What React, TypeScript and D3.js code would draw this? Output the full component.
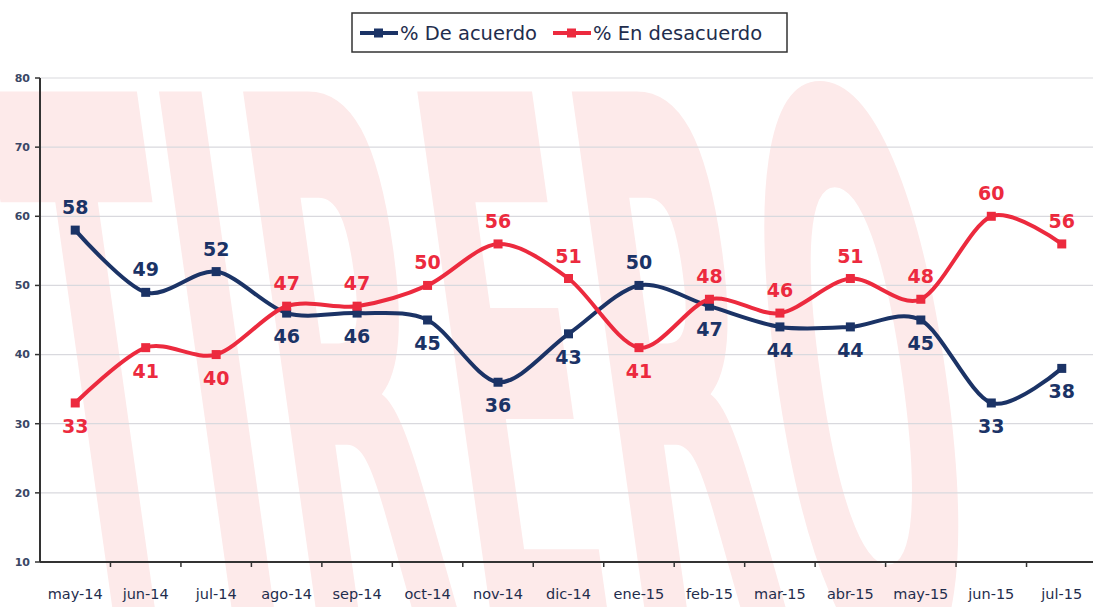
import { useMemo } from 'react';
import * as d3 from 'd3';

const W = 1093;
const H = 607;
const M = { top: 78, right: -4, bottom: 45, left: 40 };

const months = ['may-14', 'jun-14', 'jul-14', 'ago-14', 'sep-14', 'oct-14', 'nov-14', 'dic-14', 'ene-15', 'feb-15', 'mar-15', 'abr-15', 'may-15', 'jun-15', 'jul-15'];
const acuerdo = [58, 49, 52, 46, 46, 45, 36, 43, 50, 47, 44, 44, 45, 33, 38];
const desacuerdo = [33, 41, 40, 47, 47, 50, 56, 51, 41, 48, 46, 51, 48, 60, 56];
// label placement: 1 = above the point, -1 = below
const acuerdoPos = [1, 1, 1, -1, -1, -1, -1, -1, 1, -1, -1, -1, -1, -1, -1];
const desacuerdoPos = [-1, -1, -1, 1, 1, 1, 1, 1, -1, 1, 1, 1, 1, 1, 1];
const yTicks = [10, 20, 30, 40, 50, 60, 70, 80];

const BLUE = '#1b3366';
const RED = '#ec2a3e';
const TEXT = '#1f2d4d';
const FONT = '"DejaVu Sans", Verdana, sans-serif';

export default function App() {
  const x = useMemo(
    () => d3.scaleBand<string>().domain(months).range([M.left, W - M.right]).padding(0),
    [],
  );
  const y = useMemo(
    () => d3.scaleLinear().domain([10, 80]).range([H - M.bottom, M.top]),
    [],
  );
  const cx = (m: string) => (x(m) ?? 0) + x.bandwidth() / 2;

  const line = d3
    .line<number>()
    .x((_, i) => cx(months[i]))
    .y((d) => y(d))
    .curve(d3.curveCardinal.tension(0.1));

  const series = [
    { name: '% De acuerdo', values: acuerdo, pos: acuerdoPos, color: BLUE },
    { name: '% En desacuerdo', values: desacuerdo, pos: desacuerdoPos, color: RED },
  ];

  const x0 = M.left;
  const yBase = y(10);

  return (
    <svg width={W} height={H} style={{ display: 'block', position: 'absolute', left: 0, top: 0, background: '#fff' }}>
      {/* faint watermark, squeezed with a transform */}
      <g transform="skewX(8) scale(0.29, 1)">
        <text x={-100} y={660} fontFamily={FONT} fontWeight="bold" fontSize={780} fill="#fdeaea">
          TIRERO
        </text>
      </g>

      {/* gridlines */}
      {yTicks.map((t) => (
        <line key={t} x1={x0} x2={W} y1={y(t)} y2={y(t)} stroke="#d9d9de" strokeWidth={1.2} />
      ))}

      {/* y axis */}
      <line x1={x0} x2={x0} y1={y(80)} y2={yBase} stroke="#333" strokeWidth={2} />
      {yTicks.map((t) => (
        <g key={t}>
          <line x1={x0 - 5} x2={x0} y1={y(t)} y2={y(t)} stroke="#333" strokeWidth={1.5} />
          <text x={x0 - 10} y={y(t)} dy="0.35em" textAnchor="end" fontFamily={FONT} fontSize={11} fontWeight="bold" fill="#3a4766">
            {t}
          </text>
        </g>
      ))}

      {/* x axis */}
      <line x1={x0} x2={W} y1={yBase} y2={yBase} stroke="#333" strokeWidth={2} />
      {months.map((m, i) => (
        <g key={m}>
          {i > 0 && <line x1={x(m)} x2={x(m)} y1={yBase} y2={yBase + 5} stroke="#333" strokeWidth={1.5} />}
          <text x={cx(m)} y={yBase + 37} textAnchor="middle" fontFamily={FONT} fontSize={14.5} fill={TEXT}>
            {m}
          </text>
        </g>
      ))}

      {/* series */}
      {series.map((s) => (
        <g key={s.name}>
          <path d={line(s.values) ?? ''} fill="none" stroke={s.color} strokeWidth={4} strokeLinejoin="round" />
          {s.values.map((v, i) => (
            <rect key={i} x={cx(months[i]) - 4.5} y={y(v) - 4.5} width={9} height={9} fill={s.color} />
          ))}
        </g>
      ))}
      {series.map((s) => (
        <g key={s.name + '-labels'}>
          {s.values.map((v, i) => (
            <text
              key={i}
              x={cx(months[i])}
              y={y(v) + (s.pos[i] > 0 ? -16 : 30)}
              textAnchor="middle"
              fontFamily={FONT}
              fontWeight="bold"
              fontSize={19}
              fill={s.color}
            >
              {v}
            </text>
          ))}
        </g>
      ))}

      {/* legend */}
      <rect x={352} y={13} width={435} height={39} fill="#fff" stroke="#333" strokeWidth={1.5} />
      {series.map((s, i) => {
        const lx = i === 0 ? 360 : 553;
        return (
          <g key={s.name + '-legend'}>
            <line x1={lx} x2={lx + 38} y1={33} y2={33} stroke={s.color} strokeWidth={4} />
            <rect x={lx + 14} y={28.5} width={9} height={9} fill={s.color} />
            <text x={lx + 40} y={33} dy="0.35em" fontFamily={FONT} fontSize={19.5} fill={TEXT}>
              {s.name}
            </text>
          </g>
        );
      })}
    </svg>
  );
}
